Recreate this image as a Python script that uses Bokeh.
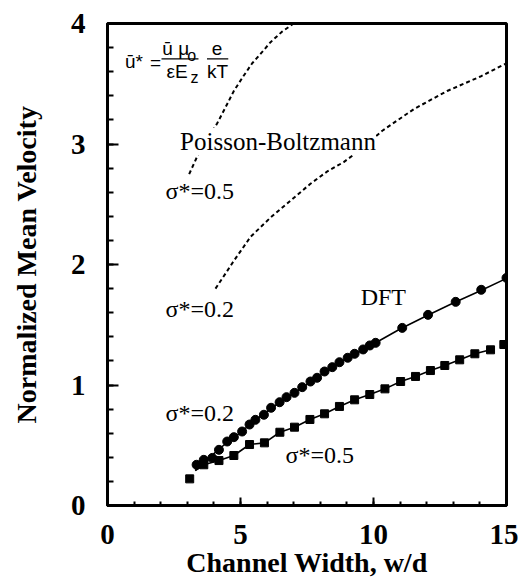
from bokeh.plotting import figure
from bokeh.models import Range1d, SingleIntervalTicker, Label
from bokeh.embed import file_html
from bokeh.resources import INLINE

# DFT, sigma*=0.2 (circles)
dft02_x = [3.35, 3.62, 3.94, 4.19, 4.50, 4.75, 5.06, 5.34, 5.56, 5.88, 6.15, 6.47, 6.73,
           7.03, 7.32, 7.63, 7.88, 8.16, 8.45, 8.72, 9.03, 9.29, 9.61, 9.86, 10.08,
           11.08, 12.05, 13.09, 14.05, 15.0]
dft02_y = [0.338, 0.379, 0.395, 0.462, 0.531, 0.567, 0.614, 0.672, 0.711, 0.753, 0.811, 0.857, 0.899,
           0.935, 0.982, 1.029, 1.060, 1.112, 1.148, 1.189, 1.226, 1.259, 1.295, 1.328, 1.350,
           1.474, 1.582, 1.690, 1.790, 1.889]
# fitted DFT curve, sigma*=0.2
fit02_x = [3.3, 3.62, 4.0, 4.5, 5.0, 5.5, 6.0, 6.5, 7.0, 7.5, 8.0, 8.5, 9.0, 9.5, 10.0,
           11.0, 12.0, 13.0, 14.0, 15.0]
fit02_y = [0.29, 0.36, 0.43, 0.525, 0.605, 0.70, 0.78, 0.86, 0.93, 1.005, 1.08, 1.155, 1.22, 1.28, 1.34,
           1.465, 1.575, 1.68, 1.78, 1.885]

# DFT, sigma*=0.5 (squares)
dft05_x = [3.09, 3.62, 4.19, 4.75, 5.34, 5.90, 6.48, 7.03, 7.61, 8.16, 8.72, 9.29, 9.86,
           10.43, 11.02, 11.58, 12.14, 12.68, 13.24, 13.81, 14.40, 14.9]
dft05_y = [0.221, 0.338, 0.373, 0.415, 0.506, 0.520, 0.608, 0.650, 0.714, 0.761, 0.822, 0.877, 0.921,
           0.968, 1.029, 1.071, 1.120, 1.162, 1.209, 1.259, 1.292, 1.336]
# fitted DFT curve, sigma*=0.5
fit05_x = [3.3, 3.62, 4.19, 4.75, 5.34, 5.90, 6.48, 7.03, 7.61, 8.16, 8.72, 9.29, 9.86,
           10.43, 11.02, 11.58, 12.14, 12.68, 13.24, 13.81, 14.40]
fit05_y = [0.29, 0.338, 0.373, 0.415, 0.506, 0.520, 0.608, 0.650, 0.714, 0.761, 0.822, 0.877, 0.921,
           0.968, 1.029, 1.071, 1.120, 1.162, 1.209, 1.259, 1.292]

# Poisson-Boltzmann, sigma*=0.5
pb05_x = [3.07, 3.4, 3.75, 4.12, 4.45, 4.75, 5.1, 5.44, 5.8, 6.13, 6.55, 7.0]
pb05_y = [2.75, 2.91, 3.04, 3.17, 3.31, 3.44, 3.56, 3.67, 3.76, 3.845, 3.93, 4.0]
# Poisson-Boltzmann, sigma*=0.2
pb02_x = [4.06, 4.75, 5.38, 6.13, 6.88, 7.63, 8.25, 8.88, 9.5, 10.33, 11.52, 12.77, 14.02, 15.0]
pb02_y = [1.80, 2.03, 2.23, 2.39, 2.53, 2.67, 2.77, 2.85, 2.95, 3.11, 3.29, 3.44, 3.56, 3.67]

x_ticks_interval = 5
y_ticks_interval = 1

SERIF = "Liberation Serif"
SANS = "Liberation Sans"

p = figure(frame_width=399, frame_height=482,
           x_range=Range1d(0, 15), y_range=Range1d(0, 4),
           output_backend="svg", toolbar_location=None,
           min_border_left=107, min_border_top=23, min_border_right=12, min_border_bottom=40)
p.background_fill_color = "white"
p.border_fill_color = "white"
p.outline_line_color = "black"
p.outline_line_width = 3
p.xgrid.visible = False
p.ygrid.visible = False

p.xaxis.ticker = SingleIntervalTicker(interval=x_ticks_interval, num_minor_ticks=5)
p.yaxis.ticker = SingleIntervalTicker(interval=y_ticks_interval, num_minor_ticks=5)
for ax in (p.xaxis[0], p.yaxis[0]):
    ax.axis_line_width = 3
    ax.axis_line_color = "black"
    ax.major_tick_out = 0
    ax.minor_tick_out = 0
    ax.major_tick_line_width = 2
    ax.minor_tick_line_width = 2
    ax.major_label_text_font = SERIF
    ax.major_label_text_font_style = "bold"
    ax.major_label_text_font_size = "29px"
    ax.major_label_text_color = "black"
p.xaxis.major_tick_in = 8
p.xaxis.minor_tick_in = 4
p.yaxis.major_tick_in = 11
p.yaxis.minor_tick_in = 6
p.xaxis.major_label_standoff = 19
p.yaxis.major_label_standoff = 22

p.yaxis.axis_label = "Normalized Mean Velocity"
p.yaxis.axis_label_text_font = SERIF
p.yaxis.axis_label_text_font_style = "bold"
p.yaxis.axis_label_text_font_size = "28px"
p.yaxis.axis_label_text_color = "black"
p.yaxis.axis_label_standoff = 26

p.xaxis.axis_label = "Channel Width, w/d"
p.xaxis.axis_label_text_font = SERIF
p.xaxis.axis_label_text_font_style = "bold"
p.xaxis.axis_label_text_font_size = "28px"
p.xaxis.axis_label_text_color = "black"
p.xaxis.axis_label_standoff = 0

# Poisson-Boltzmann curves
p.line(pb05_x, pb05_y, line_color="black", line_width=2, line_dash="4 3")
p.line(pb02_x, pb02_y, line_color="black", line_width=2, line_dash="4 3")

# DFT curves and points
p.line(fit02_x, fit02_y, line_color="black", line_width=1.6)
p.line(fit05_x, fit05_y, line_color="black", line_width=1.6)
p.scatter(dft02_x, dft02_y, marker="circle", size=9, fill_color="black", line_color="black")
p.scatter(dft05_x, dft05_y, marker="square", size=8, fill_color="black", line_color="black")

def lab(x, y, t, size="24px", font=SERIF, align="center", bg=None):
    kw = {}
    if bg:
        kw["background_fill_color"] = bg
    p.add_layout(Label(x=x, y=y, text=t, text_font=font, text_font_size=size,
                       text_align=align, text_baseline="middle", text_color="black", **kw))

lab(6.41, 3.02, "Poisson-Boltzmann", size="25px", bg="white")
lab(3.47, 2.61, "σ*=0.5")
lab(3.47, 1.63, "σ*=0.2")
lab(3.47, 0.77, "σ*=0.2")
lab(7.98, 0.42, "σ*=0.5")
lab(10.37, 1.73, "DFT")

# formula
lab(0.66, 3.685, "ū*", size="19px", font=SANS, align="left")
lab(1.81, 3.68, "=", size="19px", font=SANS)
lab(2.06, 3.795, "ū μ", size="19px", font=SANS, align="left")
lab(3.0, 3.735, "o", size="16px", font=SANS, align="left")
lab(2.22, 3.60, "εE", size="19px", font=SANS, align="left")
lab(3.12, 3.555, "z", size="16px", font=SANS, align="left")
lab(4.12, 3.795, "e", size="19px", font=SANS)
lab(4.14, 3.60, "kT", size="19px", font=SANS)
p.segment(x0=[2.03, 3.74], y0=[3.707, 3.707], x1=[3.42, 4.54], y1=[3.707, 3.707],
          line_color="black", line_width=1.2)

open("out.html", "w").write(file_html(p, INLINE))
